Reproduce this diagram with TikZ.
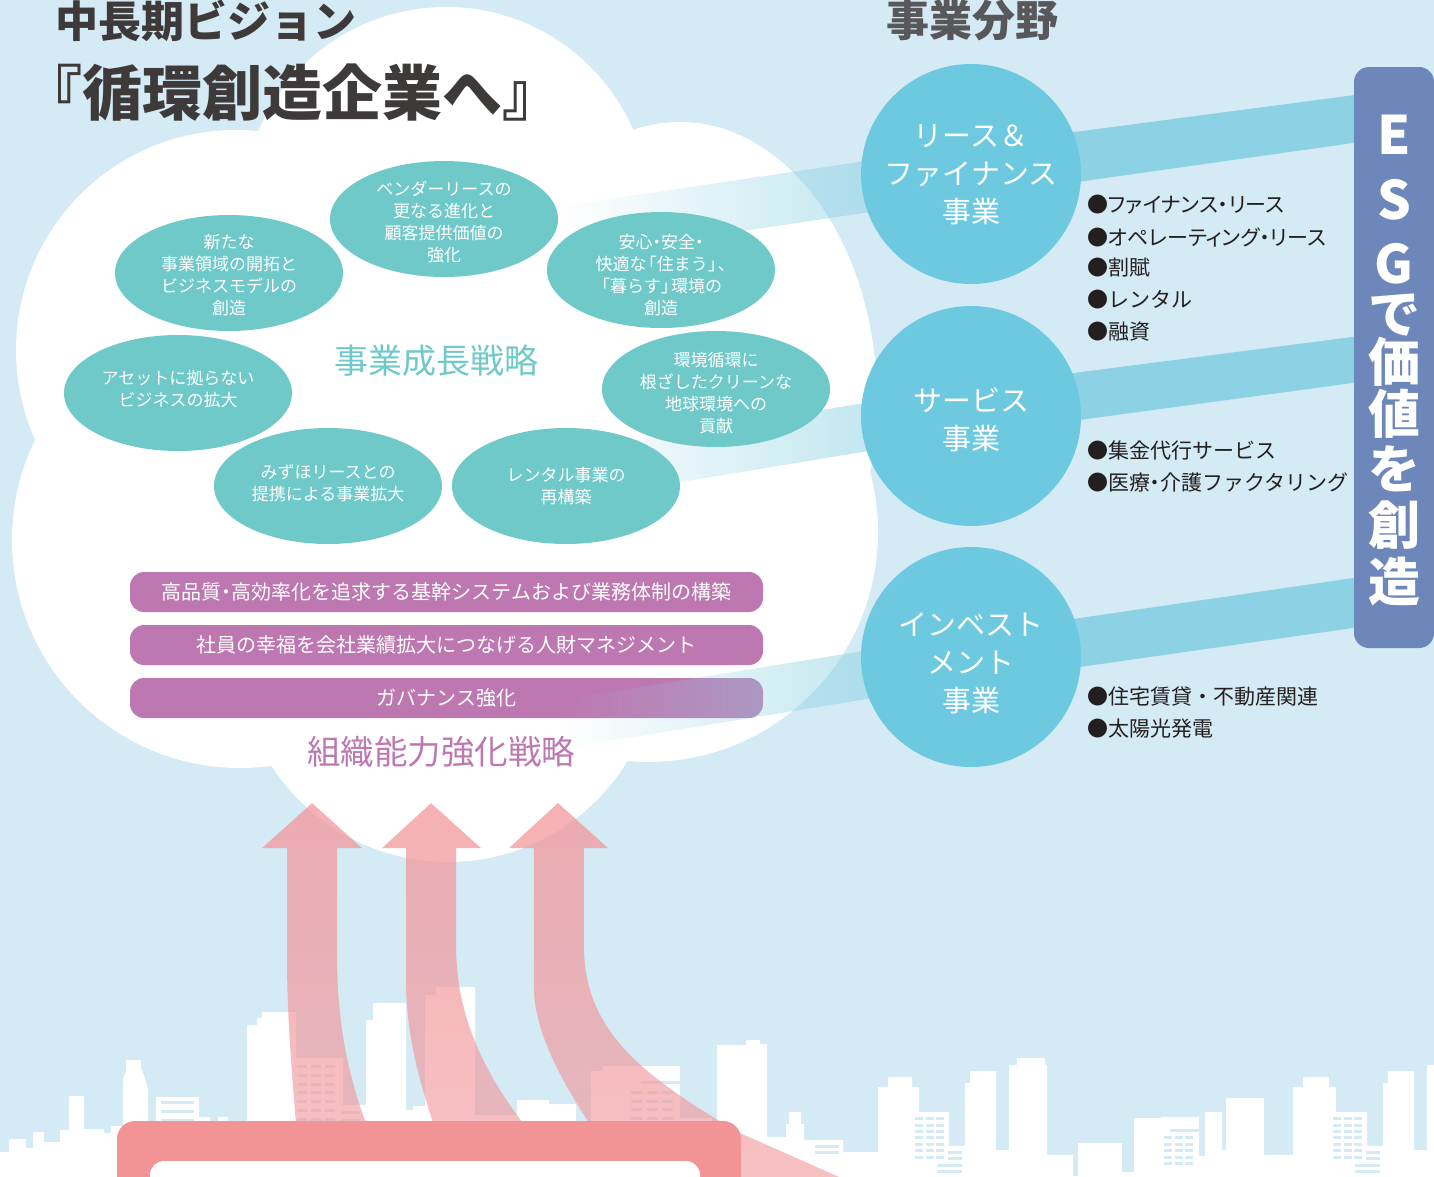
\documentclass[tikz,border=0pt]{standalone}
\usepackage{fontspec}
\setmainfont{Noto Sans CJK JP}
\newfontfamily\propjp{Noto Sans CJK JP}[RawFeature=+palt]
\usetikzlibrary{shapes.geometric,fadings}

\definecolor{skyblue}{HTML}{D4EAF4}
\definecolor{tealbubble}{HTML}{70C9C9}
\definecolor{bizcyan}{HTML}{6DC9DF}
\definecolor{bandblue}{HTML}{8DD2E4}
\definecolor{orgpurple}{HTML}{BE78B1}
\definecolor{esgblue}{HTML}{6E87BA}
\definecolor{boxred}{HTML}{F29396}
\definecolor{arrowred}{HTML}{F2979B}
\definecolor{titlegray}{HTML}{3E3A39}
\definecolor{fieldgray}{HTML}{58585A}
\definecolor{bullettext}{HTML}{231F20}

% narrow punctuation
\newcommand\ndot{\kern-0.25em・\kern-0.25em}
\newcommand\jlbr{\kern-0.4em「}
\newcommand\jrbr{」\kern-0.4em}
% one centred character of the vertical ESG slogan, followed by the gap to the next baseline
\newcommand\esgrow[2]{\hbox to 64pt{\hss\smash{#1}\hss}\kern#2}
\newcommand\esglatin[1]{{\fontsize{53}{56}\selectfont #1}}

% band fades in from the left, risers fade towards the bottom
\pgfdeclarehorizontalshading{bandsh}{100bp}{color(0bp)=(black); color(25bp)=(black); color(100bp)=(white)}
\pgfdeclarefading{bandfade}{\pgfuseshading{bandsh}}
\pgfdeclareverticalshading{risersh}{100bp}{color(0bp)=(black!50); color(100bp)=(black!16)}
\pgfdeclarefading{riserfade}{\pgfuseshading{risersh}}

\tikzset{
  tealbub/.style={ellipse, fill=tealbubble, minimum width=228pt, minimum height=116pt, inner sep=0pt},
  bubtext/.style={text=white, font=\fontsize{17}{22}\selectfont, align=center, inner sep=0pt},
  bizcirc/.style={circle, fill=bizcyan, minimum size=220pt, inner sep=0pt},
  biztext/.style={text=white, font=\fontsize{29}{38}\selectfont, align=center, inner sep=0pt},
  orgbar/.style={rectangle, rounded corners=14pt, fill=orgpurple, minimum width=633pt,
    minimum height=40pt, text=white, font=\fontsize{20}{22}\selectfont, inner sep=0pt},
  bulletitem/.style={anchor=west, text=bullettext, font=\fontsize{21}{24}\selectfont, inner sep=0pt},
  esgtext/.style={text=white, inner sep=0pt, font=\fontsize{52}{56}\selectfont\bfseries},
  solidband/.style={fill=bandblue},
  fadeband/.style={fill=bandblue, path fading=bandfade, fit fading=true},
  riser/.style={fill=arrowred, path fading=riserfade, fit fading=true},
  window/.style={fill=skyblue},
}

\begin{document}
\begin{tikzpicture}[x=1pt,y=-1pt]
\useasboundingbox (0,0) rectangle (1434,1176);
\clip (0,0) rectangle (1434,1176);
\fill[skyblue] (0,0) rectangle (1434,1176);

% ---- city skyline ----
\fill[white] (0,1180) -- (0,1152) -- (9,1152) -- (9,1139) -- (26,1139) -- (26,1148) -- (33,1148)
  -- (33,1132) -- (44,1132) -- (44,1142) -- (60,1142) -- (60,1130) -- (69,1130) -- (69,1096)
  -- (84,1096) -- (84,1129) -- (104,1129) -- (104,1133) -- (111,1133) -- (111,1126) -- (123,1126)
  -- (123,1078) -- (126,1072) -- (126,1060) -- (141,1060) -- (141,1068) -- (145,1078) -- (148,1090)
  -- (148,1126) -- (156,1126) -- (156,1097) -- (199,1097) -- (199,1117) -- (210,1117) -- (210,1121)
  -- (218,1121) -- (218,1117) -- (228,1117) -- (228,1130) -- (247,1130) -- (247,1025) -- (257,1025)
  -- (257,1018) -- (262,1018) -- (262,1012) -- (296,1012) -- (296,1058) -- (343,1058) -- (343,1105)
  -- (366,1105) -- (366,1020) -- (373,1020) -- (373,1003) -- (406,1003) -- (406,1110) -- (413,1110)
  -- (413,1106) -- (425,1106) -- (425,995) -- (436,995) -- (436,987) -- (475,987) -- (475,1115)
  -- (517,1115) -- (517,1100) -- (549,1100) -- (549,1104) -- (576,1104) -- (576,1125) -- (591,1125)
  -- (591,1071) -- (603,1071) -- (603,1066) -- (680,1066) -- (680,1118) -- (712,1118) -- (712,1125)
  -- (717,1125) -- (717,1045) -- (746,1045) -- (746,1040) -- (760,1040) -- (760,1044) -- (767,1044)
  -- (767,1137) -- (786,1137) -- (786,1124) -- (789,1124) -- (789,1112) -- (801,1112) -- (801,1124)
  -- (804,1124) -- (804,1140) -- (843,1140) -- (843,1152) -- (878,1152) -- (878,1087) -- (888,1087)
  -- (888,1077) -- (912,1077) -- (912,1087) -- (919,1087) -- (919,1112) -- (949,1112) -- (949,1146)
  -- (965,1146) -- (965,1083) -- (970,1083) -- (970,1071) -- (996,1071) -- (996,1150) -- (1009,1150)
  -- (1009,1065) -- (1017,1065) -- (1017,1058) -- (1045,1058) -- (1045,1065) -- (1047,1065)
  -- (1047,1155) -- (1073,1155) -- (1073,1176) -- (1078,1176) -- (1078,1143) -- (1122,1143)
  -- (1122,1172) -- (1134,1172) -- (1134,1118) -- (1161,1118) -- (1161,1117) -- (1199,1117)
  -- (1199,1156) -- (1205,1156) -- (1205,1112) -- (1222,1112) -- (1222,1150) -- (1226,1150)
  -- (1226,1098) -- (1264,1098) -- (1264,1155) -- (1293,1155) -- (1293,1087) -- (1303,1087)
  -- (1303,1077) -- (1329,1077) -- (1329,1087) -- (1336,1087) -- (1336,1112) -- (1367,1112)
  -- (1367,1146) -- (1383,1146) -- (1383,1083) -- (1388,1083) -- (1388,1071) -- (1414,1071)
  -- (1414,1150) -- (1427,1150) -- (1427,1065) -- (1434,1065) -- (1434,1180) -- cycle;

% windows
\foreach \wy in {1101,1110,1119} \fill[window] (161,\wy) rectangle ++(33,2.5);
\foreach \wx in {297,311,325}
  \foreach \wy in {1065,1074,1083,1091,1100,1109,1118} \fill[window] (\wx,\wy) rectangle ++(10,2.5);
\foreach \wy in {1111,1119} \fill[window] (341,\wy) rectangle ++(19,2.5);
\fill[window] (641,1081) rectangle ++(39,2.5);
\foreach \wx in {631,647,662}
  \foreach \wy in {1091,1100,1108,1117} \fill[window] (\wx,\wy) rectangle ++(11,2.5);
\foreach \wy in {1145,1151} \fill[window] (815,\wy) rectangle ++(24,2.5);
\foreach \gx in {0,418}{
  \foreach \wx in {915,926,936}
    \foreach \wy in {1117,1124,1130,1136,1143,1149,1156} \fill[window] (\gx+\wx,\wy) rectangle ++(7.5,2.5);
  \foreach \wy in {1151,1157} \fill[window] (\gx+948,\wy) rectangle ++(14,2.5);
  \foreach \wy in {1164,1170} \fill[window] (\gx+937,\wy) rectangle ++(25,2.5);
}
\fill[window] (1170,1129) rectangle ++(29,2.5);
\foreach \wx in {1164,1175,1185}
  \foreach \wy in {1136,1143,1149,1156,1162} \fill[window] (\wx,\wy) rectangle ++(8,2.5);

% ---- cloud ----
\fill[white] (446,211) circle[radius=204pt];
\fill[white] (236,350) circle[radius=220pt];
\fill[white] (240,540) circle[radius=228pt];
\fill[white] (448,652) circle[radius=210pt];
\fill[white] (648,532) circle[radius=230pt];
\fill[white] (680,400) ellipse[x radius=197pt, y radius=278pt];
\fill[white] (236,350) -- (446,211) -- (680,400) -- (648,532) -- (448,652) -- (240,540) -- cycle;

% ---- headings ----
\node[anchor=west, inner sep=0pt, text=titlegray, font=\fontsize{43}{43}\selectfont\bfseries]
  (vision) at (55,21) {中長期ビジョン};
\node[anchor=west, inner sep=0pt, text=titlegray, font=\fontsize{60}{60}\selectfont\bfseries]
  (motto) at (22,93) {『循環創造企業へ』};
\node[anchor=west, inner sep=0pt, text=fieldgray, font=\fontsize{43}{43}\selectfont\bfseries]
  (fields) at (886,20) {事業分野};

% ---- organisational strategy ----
\node[orgbar] (bar1) at (446.5,592) {高品質\ndot 高効率化を追求する基幹システムおよび業務体制の構築};
\node[orgbar] (bar2) at (446.5,645) {社員の幸福を会社業績拡大につなげる人財マネジメント};
\node[orgbar] (bar3) at (446.5,698) {ガバナンス強化};
\node[text=orgpurple, inner sep=0pt, font=\fontsize{33.5}{34}\selectfont] (orglabel) at (441,752) {組織能力強化戦略};

% ---- bands fading into the cloud ----
\fill[fadeband] (560,206.5) -- (950,148.5) -- (950,200) -- (560,258.5) -- cycle;
\fill[fadeband] (560,453) -- (950,389) -- (950,437.5) -- (560,502) -- cycle;
\fill[fadeband] (560,700) -- (950,637) -- (950,685.5) -- (560,749) -- cycle;

% ---- growth strategy bubbles ----
\node[tealbub] (e1) at (444,219) {};
\node[tealbub] (e2) at (229,273) {};
\node[tealbub] (e3) at (661,270) {};
\node[tealbub] (e4) at (178,393) {};
\node[tealbub] (e5) at (716,389) {};
\node[tealbub] (e6) at (328,486) {};
\node[tealbub] (e7) at (566,486) {};
\node[bubtext] (t1) at (444,222) {ベンダーリースの\\更なる進化と\\顧客提供価値の\\強化};
\node[bubtext] (t2) at (229,275) {新たな\\事業領域の開拓と\\ビジネスモデルの\\創造};
\node[bubtext] (t3) at (661,275) {安心\ndot 安全\ndot\\快適な\jlbr 住まう\jrbr 、\kern-0.5em\\\jlbr 暮らす\jrbr 環境の\\創造};
\node[bubtext] (t4) at (178,389) {アセットに拠らない\\ビジネスの拡大};
\node[bubtext] (t5) at (716,393) {環境循環に\\根ざしたクリーンな\\地球環境への\\貢献};
\node[bubtext] (t6) at (328,483) {みずほリースとの\\提携による事業拡大};
\node[bubtext] (t7) at (566,486) {レンタル事業の\\再構築};
\node[text=tealbubble, inner sep=0pt, font=\fontsize{34}{34}\selectfont] (growth) at (436,361) {事業成長戦略};

% ---- bands to the ESG bar ----
\fill[solidband] (950,148.5) -- (1360,94.3) -- (1360,142) -- (950,200) -- cycle;
\fill[solidband] (950,389) -- (1360,336) -- (1360,382) -- (950,437.5) -- cycle;
\fill[solidband] (950,637) -- (1360,577) -- (1360,627) -- (950,685.5) -- cycle;

% ---- business fields ----
\node[bizcirc] (c1) at (971,174) {};
\node[bizcirc] (c2) at (971,416) {};
\node[bizcirc] (c3) at (971,657) {};
\node[biztext] (ct1) at (971,175) {リース＆\\ファイナンス\\事業};
\node[biztext] (ct2) at (971,420) {サービス\\事業};
\node[biztext] (ct3) at (971,663) {インベスト\\メント\\事業};

% ---- ESG bar ----
\fill[esgblue, rounded corners=15pt] (1354,67) rectangle (1434,648);
\node[esgtext, anchor=north] (esg) at (1394,154) {\vbox{\offinterlineskip
  \esgrow{\esglatin{E}}{65pt}\esgrow{\esglatin{S}}{64pt}\esgrow{\esglatin{G}}{50pt}%
  \esgrow{で}{48pt}\esgrow{価}{52pt}\esgrow{値}{55pt}\esgrow{を}{56pt}\esgrow{創}{57pt}%
  \hbox to 64pt{\hss\smash{造}\hss}}};

% ---- field details ----
\node[bulletitem] (l1) at (1087,205) {●{\propjp ファイナンス・リース}};
\node[bulletitem] (l2) at (1087,237) {●{\propjp オペレーティング・リース}};
\node[bulletitem] (l3) at (1087,268) {●割賦};
\node[bulletitem] (l4) at (1087,300) {●レンタル};
\node[bulletitem] (l5) at (1087,332) {●融資};
\node[bulletitem] (l6) at (1087,451) {●集金代行サービス};
\node[bulletitem] (l7) at (1087,483) {●医療\ndot 介護ファクタリング};
\node[bulletitem] (l8) at (1087,697) {●住宅賃貸・不動産関連};
\node[bulletitem] (l9) at (1087,729) {●太陽光発電};

% ---- rising arrows ----
\fill[riser] (312,803) -- (362,848) -- (337,848) -- (337,960)
  .. controls (338,1040) and (352,1100) .. (392,1185) -- (300,1185)
  .. controls (297,1120) and (287,1040) .. (287,960) -- (287,848) -- (262,848) -- cycle;
\fill[riser] (431,803) -- (481,848) -- (456,848) -- (456,950)
  .. controls (458,1030) and (492,1095) .. (575,1185) -- (455,1185)
  .. controls (428,1110) and (406,1050) .. (406,980) -- (406,848) -- (382,848) -- cycle;
\fill[riser] (558,803) -- (608,848) -- (584,848) -- (584,950)
  .. controls (586,1030) and (640,1075) .. (740,1133) -- (880,1195) -- (640,1195)
  .. controls (585,1120) and (536,1050) .. (534,990) -- (534,848) -- (509,848) -- cycle;

% ---- base frame ----
\fill[boxred, rounded corners=18pt] (117,1210) -- (117,1121) -- (741,1121) -- (741,1210) -- cycle;
\fill[white, rounded corners=14pt] (150,1210) -- (150,1161) -- (700,1161) -- (700,1210) -- cycle;
\end{tikzpicture}
\end{document}
